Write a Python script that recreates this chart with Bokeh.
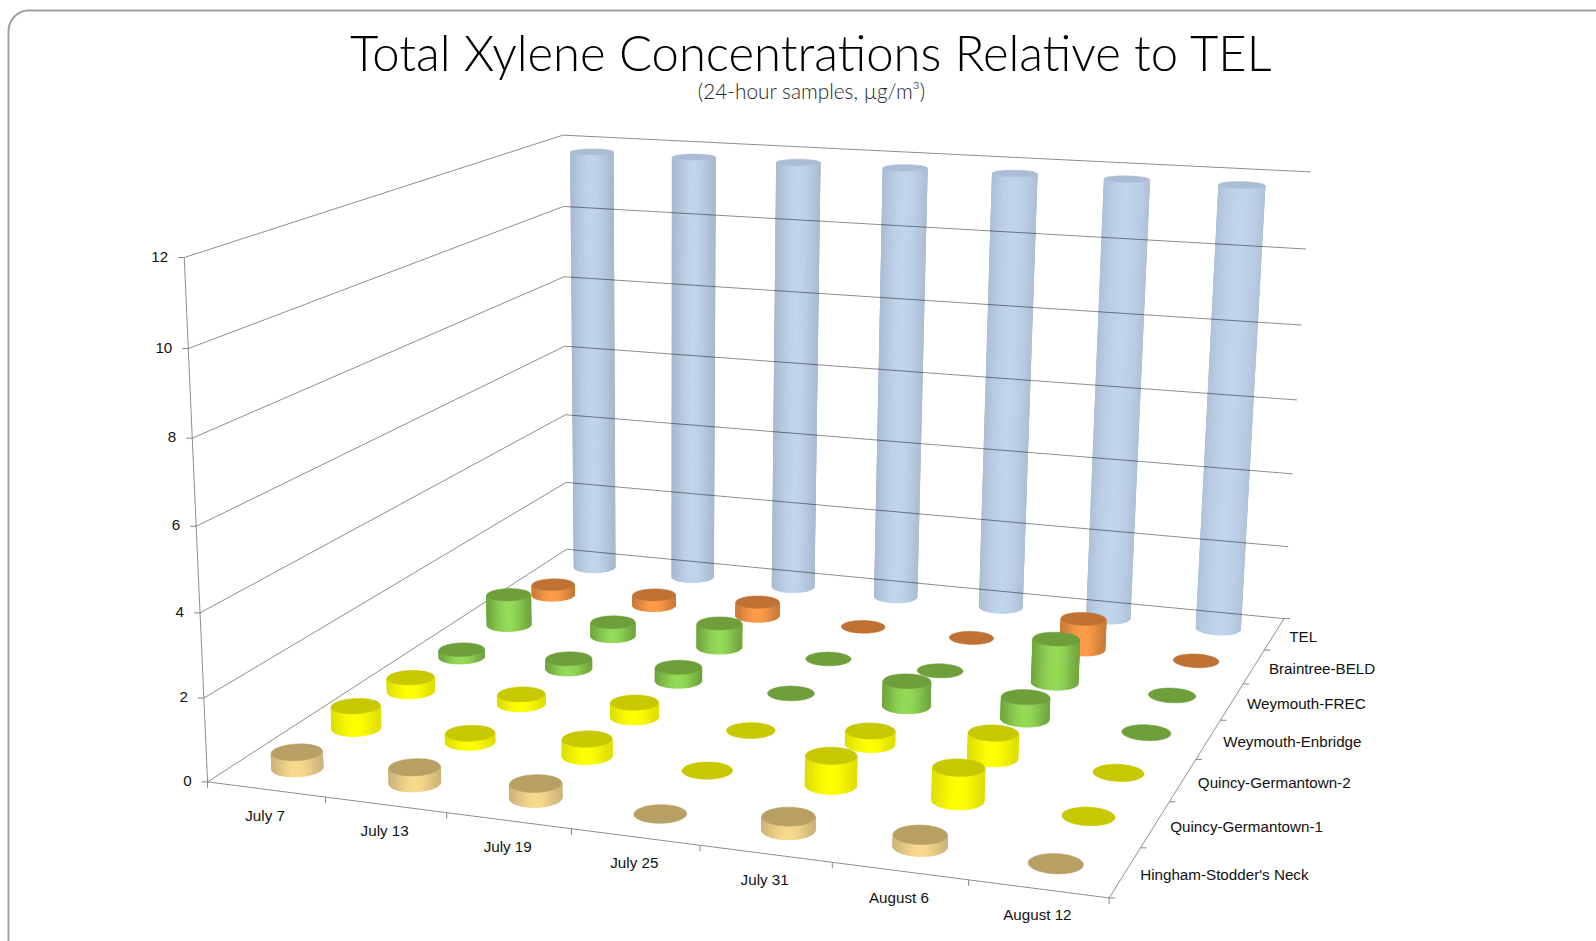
import numpy as np
from bokeh.plotting import figure
from bokeh.core.properties import value
from bokeh.embed import file_html
from bokeh.resources import INLINE

# ---------- data ----------
dates = ["July 7", "July 13", "July 19", "July 25", "July 31", "August 6", "August 12"]
series = ["Hingham-Stodder's Neck", "Quincy-Germantown-1", "Quincy-Germantown-2",
          "Weymouth-Enbridge", "Weymouth-FREC", "Braintree-BELD", "TEL"]
hingham = [0.39, 0.38, 0.35, 0, 0.31, 0.27, 0]
quincy1 = [0.56, 0.22, 0.42, 0, 0.71, 0.78, 0]
quincy2 = [0.36, 0.25, 0.37, 0, 0.33, 0.62, 0]
enbridge = [0.20, 0.27, 0.36, 0, 0.64, 0.56, 0]
frec = [0.84, 0.38, 0.65, 0, 0, 1.15, 0]
braintree = [0.30, 0.30, 0.39, 0, 0, 0.82, 0]
tel = [11.8, 11.8, 11.8, 11.8, 11.8, 11.8, 11.8]
value_ticks = [0, 2, 4, 6, 8, 10, 12]
all_series = [hingham, quincy1, quincy2, enbridge, frec, braintree, tel]

# top colour, edge colour, centre colour of each series
palette = [("#B89F63", "#CDB477", "#F8D98C"),
           ("#C8C800", "#DEDE00", "#FFFF00"),
           ("#C8C800", "#DEDE00", "#FFFF00"),
           ("#6E9F3B", "#6FA63C", "#93DA56"),
           ("#6E9F3B", "#6FA63C", "#93DA56"),
           ("#BF7233", "#C97A35", "#FF9B47"),
           ("#AABDD5", "#A8B9CE", "#BFD4ED")]

# ---------- camera of the 3-D box, fitted to its visible corners ----------
K = 1596 / 1568
box = [((0, 0, 0), (205, 767)), ((7, 0, 0), (1088, 884)), ((0, 7, 0), (555, 541)),
       ((7, 7, 0), (1262, 604)), ((0, 0, 12), (180, 251)), ((0, 7, 12), (553, 132)),
       ((7, 7, 12), (1287, 170))]
A = []
for (X, Y, Z), (sx, sy) in box:
    sx, sy = sx * K, sy * K
    A.append([X, Y, Z, 1, 0, 0, 0, 0, -sx * X, -sx * Y, -sx * Z, -sx])
    A.append([0, 0, 0, 0, X, Y, Z, 1, -sy * X, -sy * Y, -sy * Z, -sy])
P = np.linalg.svd(np.array(A, float))[2][-1].reshape(3, 4)


def proj(u, v, w):
    u, v, w = np.broadcast_arrays(np.asarray(u, float), np.asarray(v, float), np.asarray(w, float))
    h = P @ np.stack([u, v, w, np.ones_like(u)])
    return h[0] / h[2], h[1] / h[2]


def mix(a, b, t):
    ca = [int(a[i:i + 2], 16) for i in (1, 3, 5)]
    cb = [int(b[i:i + 2], 16) for i in (1, 3, 5)]
    return "#%02x%02x%02x" % tuple(int(round(x + (y - x) * t)) for x, y in zip(ca, cb))


p = figure(width=1596, height=941, x_range=(0, 1596), y_range=(941, 0),
           toolbar_location=None, output_backend="svg", min_border=0)
p.axis.visible = False
p.grid.visible = False
p.outline_line_color = None

R = 0.195
TH = np.linspace(0, 2 * np.pi, 73)


def cylinder(ui, vi, val, cols):
    top, edge, centre = cols
    cu, cv = ui + 0.5, vi + 0.5
    ru, rv = cu + R * np.cos(TH), cv + R * np.sin(TH)
    xt, yt = proj(ru, rv, val)
    if val > 0:
        xb, yb = proj(ru, rv, 0)
        lo, hi = min(xt.min(), xb.min()), max(xt.max(), xb.max())
        xs, ys, cs = [], [], []
        for i in range(len(TH) - 1):
            a = np.array([xb[i], yb[i], xb[i + 1], yb[i + 1], xt[i + 1], yt[i + 1], xt[i], yt[i]])
            qx, qy = a[0::2], a[1::2]
            area = 0.5 * np.sum(qx * np.roll(qy, -1) - np.roll(qx, -1) * qy)
            if area >= 0:
                continue
            t = (qx.mean() - lo) / (hi - lo)
            t = np.sin(np.pi * np.clip(t, 0, 1)) ** 1.5
            xs.append(qx.tolist()); ys.append(qy.tolist()); cs.append(mix(edge, centre, float(t)))
        if xs:
            p.patches(xs, ys, fill_color=cs, line_color=cs, line_width=0.8)
    p.patch(xt.tolist(), yt.tolist(), fill_color=top, line_color=top, line_width=0.5)


# frame
fa = np.linspace(np.pi, 1.5 * np.pi, 16)
fx = [8] + (28 + 20 * np.cos(fa)).tolist() + [1596]
fy = [941] + (31 + 21 * np.sin(fa)).tolist() + [10]
p.line(fx, fy, line_color="#A0A0A0", line_width=2)

# TEL columns stand behind the grid lines
for u in range(7):
    cylinder(u, 6, all_series[6][u], palette[6])

# walls and floor
gx, gy = [], []
for w in value_ticks:
    x, y = proj([0, 0, 7], [0, 7, 7], [w, w, w])
    gx.append(x.tolist()); gy.append(y.tolist())
x, y = proj([0, 0], [0, 0], [0, 12]); gx.append(x.tolist()); gy.append(y.tolist())
x, y = proj([0, 7, 7], [0, 0, 7], [0, 0, 0]); gx.append(x.tolist()); gy.append(y.tolist())
p.multi_line(gx, gy, line_color="#000000", line_alpha=0.45, line_width=1)

# ticks
tx, ty = [], []
for w in value_ticks:
    x, y = proj(0, 0, w); tx.append([float(x) - 6, float(x)]); ty.append([float(y), float(y)])
for u in range(8):
    x, y = proj(u, 0, 0); tx.append([float(x), float(x)]); ty.append([float(y), float(y) + 6])
for v in range(8):
    x, y = proj(7, v, 0); tx.append([float(x), float(x) + 6]); ty.append([float(y), float(y)])
p.multi_line(tx, ty, line_color="#868686", line_width=1)

# remaining columns, back to front
for v in range(5, -1, -1):
    for u in range(7):
        cylinder(u, v, all_series[v][u], palette[v])

# texts
label_font = value("Liberation Sans")
x, y = proj(0, 0, np.array(value_ticks, float))
p.text((x - 16).tolist(), (y - 1).tolist(), text=[str(w) for w in value_ticks], text_font=label_font,
       text_font_size="15.2px", text_align="right", text_baseline="middle", text_color="#111111")
x, y = proj(np.arange(7) + 0.5, 0, 0)
p.text((x - 1).tolist(), (y + 26).tolist(), text=dates, text_font=label_font,
       text_font_size="15.2px", text_align="center", text_baseline="middle", text_color="#111111")
x, y = proj(7, np.arange(7) + 0.5, 0)
p.text((x + 15).tolist(), (y + 2).tolist(), text=series, text_font=label_font,
       text_font_size="15.2px", text_align="left", text_baseline="middle", text_color="#111111")
p.text([811], [51], text=["Total Xylene Concentrations Relative to TEL"], text_font=value("Lato Light"),
       text_font_size="49px", text_align="center", text_baseline="middle", text_color="#000000")
p.text([814], [90], text=["(24-hour samples,  µg/m³)"], text_font=value("Lato Light"),
       text_font_size="20.8px", text_align="center", text_baseline="middle", text_color="#262626")

open("out.html", "w").write(file_html(p, INLINE))
